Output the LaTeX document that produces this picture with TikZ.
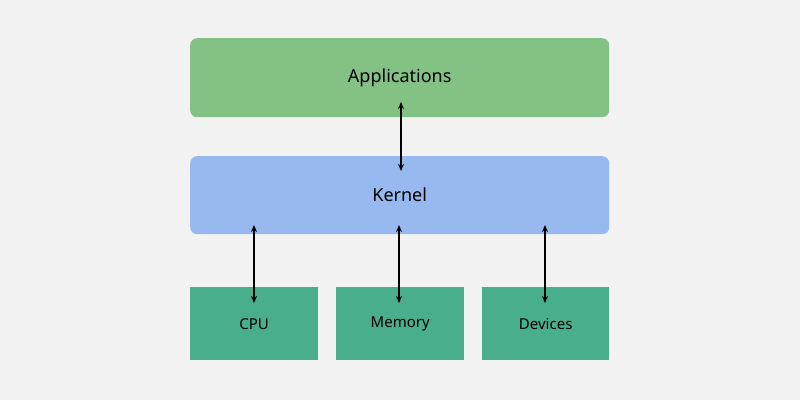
\documentclass[tikz,border=0pt]{standalone}
\usepackage{fontspec}
\setmainfont{Noto Sans}
\usetikzlibrary{arrows.meta}
\definecolor{bg}{HTML}{F2F2F2}
\definecolor{appc}{HTML}{84C184}
\definecolor{kerc}{HTML}{97B9EF}
\definecolor{hwc}{HTML}{48AE8C}
\begin{document}
\begin{tikzpicture}[x=1pt,y=-1pt,
  box/.style={draw=none,inner sep=0pt,anchor=north west,text=black,font=\bfseries},
  arr/.style={{Stealth[length=7pt,width=6pt]}-{Stealth[length=7pt,width=6pt]},line width=1.2pt,black}]
\fill[bg] (0,0) rectangle (800,400);
\useasboundingbox (0,0) rectangle (800,400);
\node[box,fill=appc,rounded corners=7pt,minimum width=419pt,minimum height=79pt,font=\bfseries\fontsize{18}{20}\selectfont] (app) at (190,38) {Applications};
\node[box,fill=kerc,rounded corners=7pt,minimum width=419pt,minimum height=78pt,font=\bfseries\fontsize{18}{20}\selectfont] (ker) at (190,156) {Kernel};
\node[box,fill=hwc,minimum width=128pt,minimum height=73pt,font=\bfseries\fontsize{15}{17}\selectfont] (cpu) at (190,287) {CPU};
\node[box,fill=hwc,minimum width=128pt,minimum height=73pt,font=\bfseries\fontsize{15}{17}\selectfont] (mem) at (336,287) {Memory};
\node[box,fill=hwc,minimum width=127pt,minimum height=73pt,font=\bfseries\fontsize{15}{17}\selectfont] (dev) at (482,287) {Devices};
\coordinate (a1) at (401,102); \coordinate (a2) at (401,171);
\coordinate (c1) at (254,225); \coordinate (c2) at (254,303);
\coordinate (m1) at (399,225); \coordinate (m2) at (399,303);
\coordinate (d1) at (545,225); \coordinate (d2) at (545,303);
\draw[arr] (a1) -- (a2);
\draw[arr] (c1) -- (c2);
\draw[arr] (m1) -- (m2);
\draw[arr] (d1) -- (d2);
\end{tikzpicture}
\end{document}
